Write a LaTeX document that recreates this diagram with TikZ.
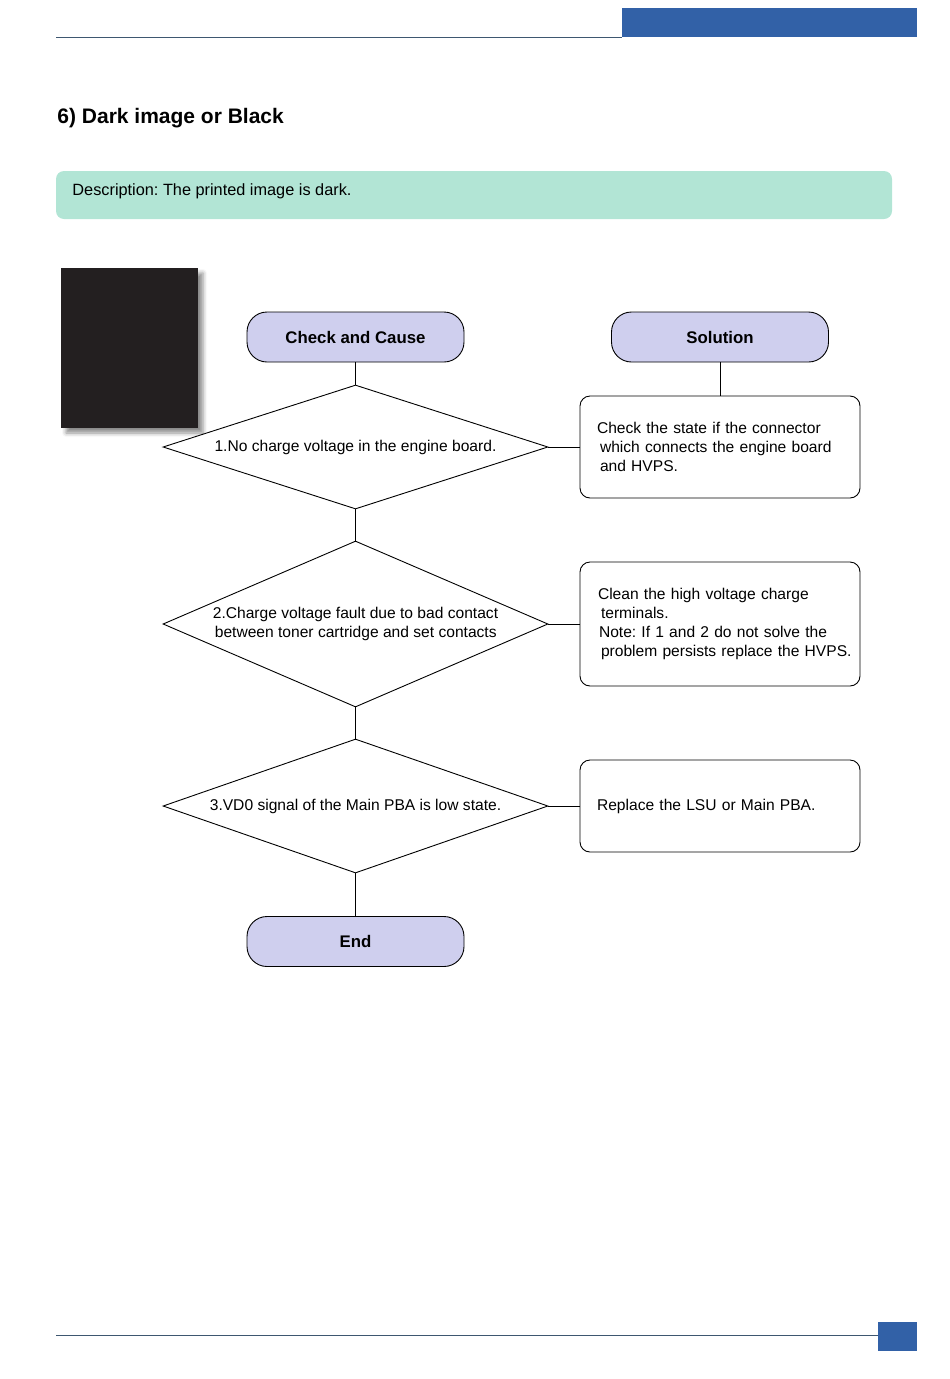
\documentclass[tikz,border=0pt]{standalone}
\usepackage{fontspec}
\setmainfont{Liberation Sans}
\usepackage{tikz}
\usetikzlibrary{shapes.geometric, shadows.blur}

\definecolor{hdrblue}{HTML}{3261A7}
\definecolor{rulegray}{HTML}{3E5770}
\definecolor{mint}{HTML}{B2E5D5}
\definecolor{lilac}{HTML}{CFCFEE}
\definecolor{ink}{HTML}{231F20}
\newcommand{\flowtext}{\fontsize{15.6}{19}\selectfont}
\frenchspacing

\begin{document}
\begin{tikzpicture}[
        x=1pt, y=-1pt, line width=0.9pt,
        term/.style={rectangle, rounded corners=20pt, fill=lilac, draw, minimum width=217pt, minimum height=50pt, font=\fontsize{16.8}{20}\selectfont\bfseries},
        ask/.style={diamond, draw, fill=white, inner sep=0pt, minimum width=385pt, align=left, font=\flowtext},
        fix/.style={rectangle, rounded corners=10pt, draw, minimum width=280pt, text width=266pt, inner xsep=7pt, align=left, font=\flowtext, execute at begin node={\leftskip=10pt\relax}}]

      \useasboundingbox (0,0) rectangle (950,1379);

      % page header and footer
      \fill[hdrblue] (622,8) rectangle (917,37);
      \draw[rulegray, line width=1pt] (56,37) -- (622,37);
      \fill[hdrblue] (878,1322) rectangle (917,1351);
      \draw[rulegray, line width=1pt] (56,1335) -- (878,1335);

      \node[anchor=base west, inner sep=0pt, font=\fontsize{21}{25}\selectfont\bfseries] (title) at (57,123) {6) Dark image or Black};

      \fill[mint, rounded corners=8pt] (56,171) rectangle (892,219);
      \node[anchor=west, inner sep=0pt, font=\fontsize{16.3}{19}\selectfont] (desc) at (72,191) {Description: The printed image is dark.};

      % sample print
      \fill[ink, blur shadow={shadow xshift=5pt, shadow yshift=-5pt, shadow blur radius=4pt, shadow opacity=45}] (61,268) rectangle (198,428);

      \node[term] (cc) at (355.5,337) {Check and Cause};
      \node[term] (sol) at (720,337) {Solution};

      \node[ask, minimum height=124pt, aspect=3.1] (q1) at (355.5,447) {1.No charge voltage in the engine board.};
      \node[ask, minimum height=166pt, aspect=2.32] (q2) at (355.5,624) {2.Charge voltage fault due to bad contact\\\hspace*{2pt}between toner cartridge and set contacts};
      \node[ask, minimum height=134pt, aspect=2.87] (q3) at (355.5,806) {3.VD0 signal of the Main PBA is low state.};
      \node[term] (fin) at (355.5,941.5) {End};

      \node[fix, minimum height=102pt] (a1) at (720,447) {Check the state if the connector\\\hspace*{3pt}which connects the engine board\\\hspace*{3pt}and HVPS.};
      \node[fix, minimum height=124pt] (a2) at (720,624) {\hspace*{1pt}Clean the high voltage charge\\\hspace*{4pt}terminals.\\\hspace*{2pt}Note: If 1 and 2 do not solve the\\\hspace*{4pt}problem persists replace the HVPS.};
      \node[fix, minimum height=92pt] (a3) at (720,806) {Replace the LSU or Main PBA.};

      \foreach \b/\t in {cc/q1, q1/q2, q2/q3, q3/fin, sol/a1}
        \draw (\b.south) -- (\t.north);
      \foreach \b/\t in {q1/a1, q2/a2, q3/a3}
        \draw (\b.east) -- (\t.west);

    \end{tikzpicture}
\end{document}
